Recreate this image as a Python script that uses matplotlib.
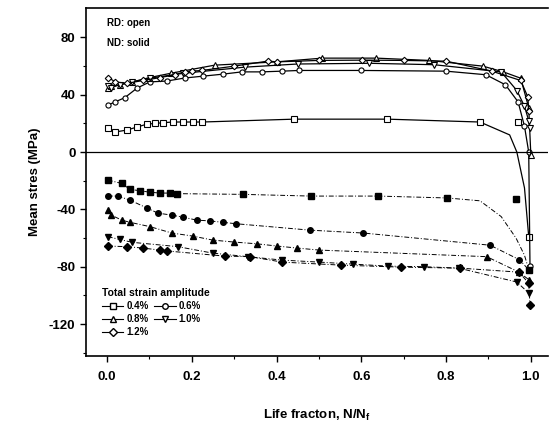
import matplotlib
matplotlib.use("Agg")
import matplotlib.pyplot as plt
from matplotlib.lines import Line2D

plt.rcParams['font.family'] = ['Liberation Sans', 'DejaVu Sans']
plt.rcParams['font.weight'] = 'bold'
plt.rcParams['axes.unicode_minus'] = False
plt.rcParams['mathtext.fontset'] = 'custom'
plt.rcParams['mathtext.bf'] = 'Liberation Sans:bold'

# ---- RD (open markers, solid lines) ----
rd04_x = [0.002, 0.019, 0.047, 0.071, 0.094, 0.113, 0.132, 0.155, 0.179, 0.202, 0.224, 0.442, 0.661, 0.88, 0.95, 0.967, 0.985, 0.995]
rd04_y = [16.8, 14.0, 15.4, 17.5, 19.5, 20.0, 20.5, 21.0, 21.0, 21.0, 21.0, 23.0, 23.0, 21.0, 12.0, 0.0, -25.0, -59.0]
rd04_mx = [0.002, 0.019, 0.047, 0.071, 0.094, 0.113, 0.132, 0.155, 0.179, 0.202, 0.224, 0.442, 0.661, 0.88, 0.969, 0.995]
rd04_my = [16.8, 14.0, 15.4, 17.5, 19.5, 20.0, 20.5, 21.0, 21.0, 21.0, 21.0, 23.0, 23.0, 21.0, 21.0, -59.0]

rd06_x = [0.002, 0.019, 0.042, 0.071, 0.101, 0.141, 0.183, 0.226, 0.273, 0.318, 0.365, 0.412, 0.454, 0.60, 0.80, 0.894, 0.94, 0.97, 0.985, 0.995, 0.998]
rd06_y = [32.8, 35.0, 38.0, 44.7, 49.0, 49.6, 51.7, 53.0, 54.4, 56.0, 56.0, 56.5, 57.0, 57.0, 56.5, 54.0, 47.0, 35.0, 18.0, 0.0, -79.6]

rd08_x = [0.002, 0.01, 0.03, 0.06, 0.10, 0.15, 0.254, 0.40, 0.508, 0.635, 0.76, 0.887, 0.935, 0.976, 0.995, 1.0]
rd08_y = [45.0, 46.0, 47.0, 49.0, 52.0, 55.0, 60.7, 63.0, 65.6, 65.6, 64.0, 60.0, 56.0, 51.6, 31.0, -2.0]

rd10_x = [0.002, 0.01, 0.03, 0.06, 0.101, 0.18, 0.325, 0.45, 0.619, 0.772, 0.93, 0.967, 0.985, 0.995, 0.997]
rd10_y = [46.0, 45.0, 47.0, 49.0, 51.6, 55.0, 59.3, 61.5, 62.0, 61.0, 56.0, 43.0, 32.0, 22.0, 17.0]

rd12_x = [0.003, 0.02, 0.047, 0.085, 0.125, 0.16, 0.183, 0.2, 0.224, 0.30, 0.379, 0.402, 0.50, 0.602, 0.70, 0.80, 0.908, 0.976, 0.993, 0.995]
rd12_y = [52.0, 49.0, 48.0, 50.0, 52.0, 54.0, 56.0, 56.5, 57.0, 60.0, 63.5, 63.0, 64.0, 64.2, 64.0, 63.5, 56.5, 50.0, 38.4, 29.0]

# ---- ND (solid markers, dash-dot lines) ----
nd04_x = [0.002, 0.035, 0.054, 0.078, 0.101, 0.125, 0.148, 0.165, 0.32, 0.482, 0.64, 0.802, 0.88, 0.93, 0.965, 0.985, 0.995]
nd04_y = [-19.5, -21.9, -26.0, -27.0, -28.0, -28.6, -28.6, -29.0, -29.5, -30.7, -30.7, -32.0, -34.0, -45.0, -60.0, -72.0, -82.0]
nd04_mx = [0.002, 0.035, 0.054, 0.078, 0.101, 0.125, 0.148, 0.165, 0.32, 0.482, 0.64, 0.802, 0.965, 0.995]
nd04_my = [-19.5, -21.9, -26.0, -27.0, -28.0, -28.6, -28.6, -29.0, -29.5, -30.7, -30.7, -32.0, -33.0, -82.0]

nd06_x = [0.002, 0.026, 0.054, 0.094, 0.12, 0.153, 0.179, 0.212, 0.242, 0.273, 0.304, 0.48, 0.605, 0.904, 0.972, 0.995]
nd06_y = [-30.7, -30.7, -33.5, -39.0, -42.6, -44.0, -45.4, -47.5, -48.0, -49.0, -50.0, -54.5, -56.5, -65.0, -75.0, -82.0]

nd08_x = [0.002, 0.01, 0.035, 0.054, 0.101, 0.153, 0.202, 0.249, 0.30, 0.353, 0.402, 0.449, 0.501, 0.896, 0.972, 0.995]
nd08_y = [-40.5, -44.0, -47.5, -49.0, -52.0, -56.5, -58.6, -61.4, -62.8, -64.0, -65.6, -67.0, -68.4, -73.0, -83.8, -89.0]

nd10_x = [0.002, 0.03, 0.06, 0.167, 0.249, 0.332, 0.414, 0.501, 0.581, 0.663, 0.748, 0.83, 0.967, 0.995]
nd10_y = [-59.0, -61.0, -63.0, -66.0, -70.5, -73.0, -75.4, -76.8, -78.2, -79.6, -80.0, -81.0, -90.7, -98.4]

nd12_x = [0.002, 0.047, 0.085, 0.125, 0.141, 0.278, 0.337, 0.414, 0.553, 0.694, 0.833, 0.972, 0.995, 0.998]
nd12_y = [-65.6, -66.0, -67.0, -68.4, -69.0, -72.6, -73.0, -76.8, -78.9, -80.3, -81.0, -83.8, -91.5, -106.8]

legend_labels = ['0.4%', '0.6%', '0.8%', '1.0%', '1.2%']
markers = ['s', 'o', '^', 'v', 'D']

fig = plt.figure(figsize=(5.5, 4.28), dpi=100)
ax = fig.add_axes([0.156, 0.168, 0.840, 0.813])

ms = 3.7
lw = 0.9
# RD open
ax.plot(rd04_x, rd04_y, '-', color='black', lw=lw)
ax.plot(rd04_mx, rd04_my, 's', mfc='white', mec='black', ms=ms, mew=0.8)
ax.plot(rd06_x, rd06_y, '-', color='black', lw=lw)
ax.plot(rd06_x, rd06_y, 'o', mfc='white', mec='black', ms=ms, mew=0.8, ls='none')
ax.plot(rd08_x, rd08_y, '^-', color='black', mfc='white', mec='black', ms=ms, mew=0.8, lw=lw)
ax.plot(rd10_x, rd10_y, 'v-', color='black', mfc='white', mec='black', ms=ms, mew=0.8, lw=lw)
ax.plot(rd12_x, rd12_y, 'D-', color='black', mfc='white', mec='black', ms=ms - 0.4, mew=0.8, lw=lw)

# ND solid
dd = (0, (5, 2, 1, 2))
ax.plot(nd04_x, nd04_y, color='black', lw=0.7, ls=dd)
ax.plot(nd04_mx, nd04_my, 's', color='black', ms=ms)
ax.plot(nd06_x, nd06_y, 'o', color='black', ms=ms + 0.3, lw=0.7, ls=dd)
ax.plot(nd08_x, nd08_y, '^', color='black', ms=ms + 0.3, lw=0.7, ls=dd)
ax.plot(nd10_x, nd10_y, 'v', color='black', ms=ms + 0.3, lw=0.7, ls=dd)
ax.plot(nd12_x, nd12_y, 'D', color='black', ms=ms, lw=0.7, ls=dd)

ax.axhline(0, color='black', lw=0.9)

ax.set_xlim(-0.05, 1.04)
ax.set_ylim(-142.4, 100.5)
ax.set_xticks([0.0, 0.2, 0.4, 0.6, 0.8, 1.0])
ax.set_xticks([0.1, 0.3, 0.5, 0.7, 0.9], minor=True)
ax.set_yticks([80, 40, 0, -40, -80, -120])
ax.set_yticks([60, 20, -20, -60, -100, -140], minor=True)
ax.tick_params(axis='both', which='major', direction='out', length=4, width=1, labelsize=9.5)
ax.tick_params(axis='both', which='minor', direction='out', length=2, width=0.8)
for lab in ax.get_xticklabels() + ax.get_yticklabels():
    lab.set_fontweight('bold')
ax.tick_params(axis='x', pad=7)
for s in ['left', 'bottom', 'top']:
    ax.spines[s].set_linewidth(1.2)
ax.spines['right'].set_visible(False)

ax.set_xlabel(r'Life fracton, N/N$_\mathbf{f}$', fontsize=9.5, fontweight='bold', labelpad=18)
ax.set_ylabel('Mean stres (MPa)', fontsize=9.5, fontweight='bold', labelpad=6)

ax.text(0.0, 90, 'RD: open', fontsize=7, fontweight='bold', va='center')
ax.text(0.0, 76, 'ND: solid', fontsize=7, fontweight='bold', va='center')

handles = []
for lab, m in zip(legend_labels, markers):
    handles.append(Line2D([0], [0], color='black', lw=0.8, marker=m, mfc='white',
                          mec='black', ms=4, label=lab))
order = [0, 2, 4, 1, 3]
leg = ax.legend([handles[i] for i in order], [legend_labels[i] for i in order],
                ncol=2, loc='lower left', bbox_to_anchor=(0.02, 0.035),
                frameon=False, fontsize=7, title='Total strain amplitude',
                title_fontproperties={'weight': 'bold', 'size': 7.5},
                handlelength=2.2, handletextpad=0.3, columnspacing=0.6,
                labelspacing=0.3, borderpad=0.2)
leg._legend_box.align = 'left'
for t in leg.get_texts():
    t.set_fontweight('bold')

fig.savefig('out.png', dpi=100)
